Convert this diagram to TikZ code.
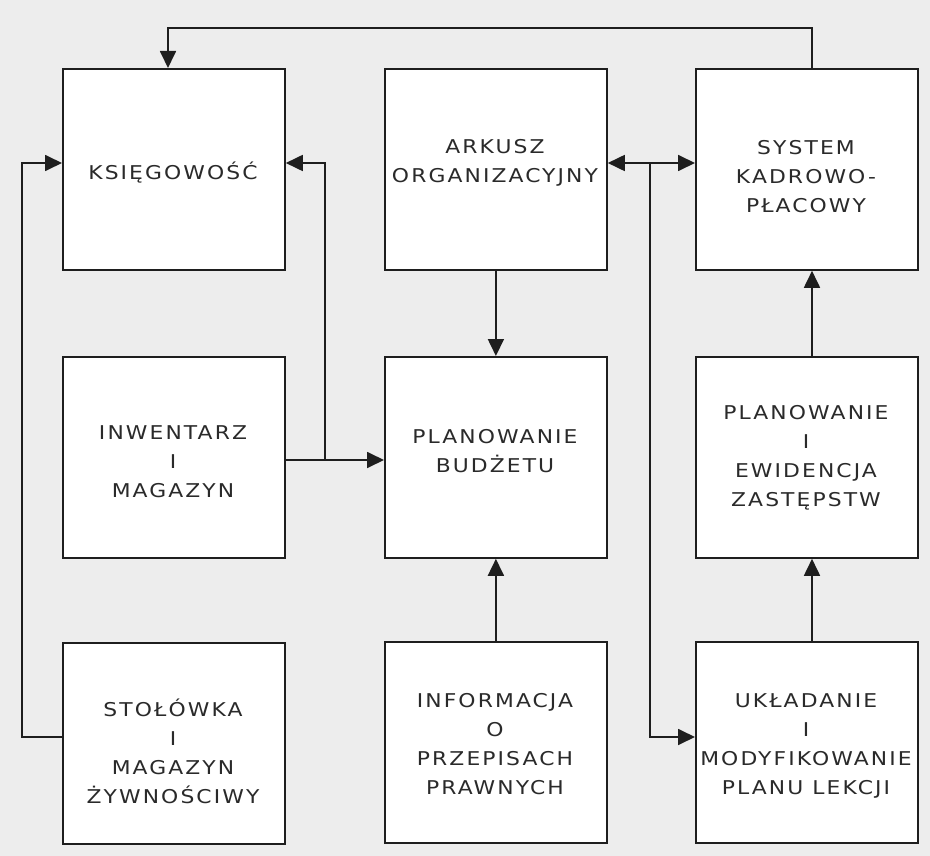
\documentclass[tikz,border=0pt]{standalone}
\usepackage{fontspec}
\setmainfont{DejaVu Sans}[LetterSpace=11.0,FakeStretch=1.15]
\usetikzlibrary{arrows.meta,calc}
\definecolor{bgc}{HTML}{EDEDED}
\definecolor{linec}{HTML}{1E1E1E}
\definecolor{textc}{HTML}{2A2A2A}
\begin{document}
\begin{tikzpicture}[x=1pt,y=-1pt,
  box/.style={draw=linec, line width=1.8pt, fill=white, minimum width=222pt, minimum height=201pt, inner sep=0pt, anchor=north west},
  txt/.style={align=center, font=\fontsize{19}{29}\selectfont, text=textc, inner sep=0pt},
  conn/.style={draw=linec, line width=1.8pt},
  arr/.style={conn, -{Triangle[length=17pt,width=16pt]}},
  dbl/.style={conn, {Triangle[length=17pt,width=16pt]}-{Triangle[length=17pt,width=16pt]}},
]
\fill[bgc] (0,0) rectangle (930,856);
\useasboundingbox (0,0) rectangle (930,856);

% boxes
\node[box] (ksi) at (62,68) {};
\node[box] (ark) at (384,68) {};
\node[box] (sys) at (695,68) {};
\node[box] (inw) at (62,356) {};
\node[box] (bud) at (384,356) {};
\node[box] (zas) at (695,356) {};
\node[box] (sto) at (62,642) {};
\node[box] (inf) at (384,641) {};
\node[box] (ukl) at (695,641) {};

% texts
\node[txt] (tksi) at (173,173) {KSIĘGOWOŚĆ};
\node[txt] (tark) at (495,163) {ARKUSZ\\ORGANIZACYJNY};
\node[txt] (tsys) at (806,177) {SYSTEM\\KADROWO-\\PŁACOWY};
\node[txt] (tinw) at (173,462) {INWENTARZ\\I\\MAGAZYN};
\node[txt] (tbud) at (495,451) {PLANOWANIE\\BUDŻETU};
\node[txt] (tzas) at (806,458) {PLANOWANIE\\I\\EWIDENCJA\\ZASTĘPSTW};
\node[txt] (tsto) at (173,751) {STOŁÓWKA\\I\\MAGAZYN\\ŻYWNOŚCIWY};
\node[txt] (tinf) at (495,744) {INFORMACJA\\O\\PRZEPISACH\\PRAWNYCH};
\node[txt] (tukl) at (806,746) {UKŁADANIE\\I\\MODYFIKOWANIE\\PLANU LEKCJI};

% helper coordinates
\coordinate (t1) at (812,28);
\coordinate (t2) at (168,28);
\coordinate (l1) at (22,737);
\coordinate (l2) at (22,163);
\coordinate (m1) at (325,163);
\coordinate (b1) at (325,460);
\coordinate (m2) at (650,163);
\coordinate (m3) at (650,737);

% connectors
\draw[arr] (sys.north -| t1) -- (t1) -- (t2) -- (ksi.north -| t2);
\draw[arr] (sto.west |- l1) -- (l1) -- (l2) -- (ksi.west |- l2);
\draw[arr] (inw.east |- b1) -- (bud.west |- b1);
\draw[arr] (b1) -- (m1) -- (ksi.east |- m1);
\draw[arr] (ark.south) -- (bud.north);
\draw[arr] (inf.north) -- (bud.south);
\draw[dbl] (ark.east |- m2) -- (sys.west |- m2);
\draw[arr] (m2) -- (m3) -- (ukl.west |- m3);
\draw[arr] (ukl.north -| t1) -- (zas.south -| t1);
\draw[arr] (zas.north -| t1) -- (sys.south -| t1);
\end{tikzpicture}
\end{document}
